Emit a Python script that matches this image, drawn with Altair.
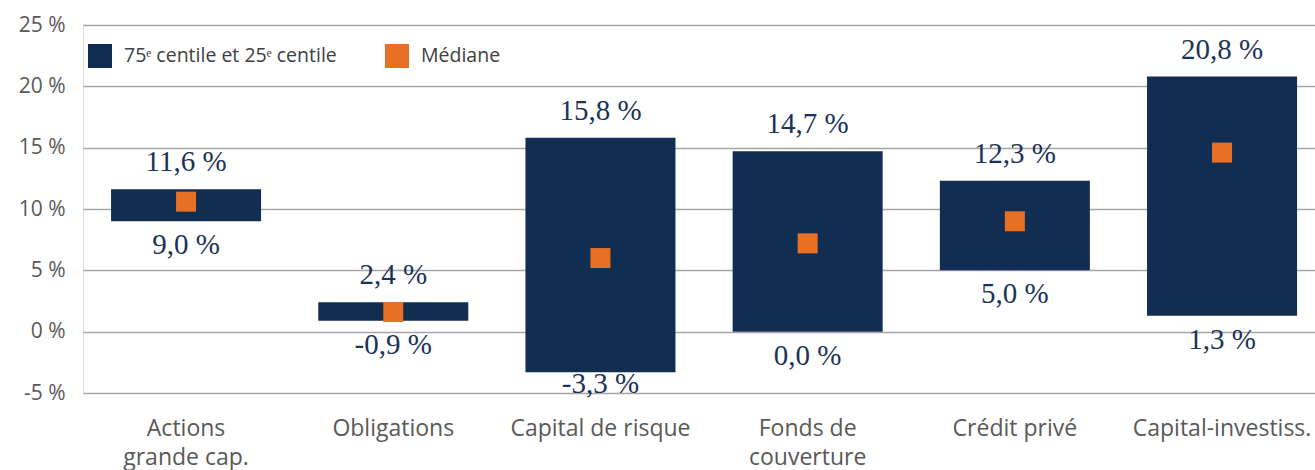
import altair as alt
import pandas as pd

categories = ["Actions grande cap.", "Obligations", "Capital de risque",
              "Fonds de couverture", "Crédit privé", "Capital-investiss."]
p75 = [11.6, 2.4, 15.8, 14.7, 12.3, 20.8]
p25 = [9.0, 0.9, -3.3, 0.0, 5.0, 1.3]
median = [10.6, 1.6, 6.0, 7.2, 9.0, 14.6]
top_labels = ["11,6 %", "2,4 %", "15,8 %", "14,7 %", "12,3 %", "20,8 %"]
bottom_labels = ["9,0 %", "-0,9 %", "-3,3 %", "0,0 %", "5,0 %", "1,3 %"]
series = ["75ᵉ centile et 25ᵉ centile", "Médiane"]
colors = ["#112d52", "#e87025"]

df = pd.DataFrame({
    "cat": categories, "hi": p75, "lo": p25, "med": median,
    "tl": top_labels, "bl": bottom_labels,
    "s_bar": series[0], "s_med": series[1],
})

SANS = "Open Sans"
SERIF = "Liberation Serif"

x = alt.X("cat:N", sort=categories, title=None,
          scale=alt.Scale(paddingInner=0.276, paddingOuter=0.111, align=0.61),
          axis=alt.Axis(labelAngle=0, labelFont=SANS, labelFontSize=23,
                        labelColor="#595959", labelPadding=24, labelLineHeight=29,
                        labelBaseline="top", labelLimit=0,
                        domain=False, ticks=False, grid=False,
                        labelExpr="datum.label == 'Actions grande cap.' ? ['Actions', 'grande cap.'] : datum.label == 'Fonds de couverture' ? ['Fonds de', 'couverture'] : datum.label"))

yscale = alt.Scale(domain=[-5, 25], nice=False, zero=False)
yaxis = alt.Axis(values=[-5, 0, 5, 10, 15, 20, 25], labelExpr="datum.value + ' %'",
                 labelFont=SANS, labelFontSize=21, labelColor="#595959",
                 labelPadding=18, domain=False, ticks=False,
                 grid=True, gridColor="#a6a6a6", gridWidth=1.5, title=None)

legend = alt.Legend(orient="none", legendX=5, legendY=19,
                    direction="horizontal", symbolType="square",
                    symbolSize=576, symbolStrokeWidth=0, symbolOpacity=1,
                    labelFont=SANS, labelFontSize=19.5, labelLimit=0,
                    labelColor="#404040", labelOffset=12, columnPadding=48)

base = alt.Chart(df)

bars = base.mark_bar().encode(
    x=x,
    y=alt.Y("lo:Q", scale=yscale, axis=yaxis),
    y2="hi:Q",
    color=alt.Color("s_bar:N", title=None,
                    scale=alt.Scale(domain=series, range=colors),
                    legend=legend),
)

meds = base.mark_square(size=400, opacity=1).encode(
    x=x,
    y=alt.Y("med:Q", scale=yscale),
    color=alt.Color("s_med:N", scale=alt.Scale(domain=series, range=colors)),
)

tlab = base.mark_text(font=SERIF, fontSize=29, color="#1b3358", dy=-27,
                      baseline="middle").encode(
    x=x, y=alt.Y("hi:Q", scale=yscale), text="tl:N")
blab = base.transform_calculate(
    ly="max(datum.lo - 1.95, -4.3)"
).mark_text(font=SERIF, fontSize=29, color="#1b3358",
            baseline="middle").encode(
    x=x, y=alt.Y("ly:Q", scale=yscale), text="bl:N")

chart = alt.layer(bars, meds, tlab, blab).properties(
    width=1232, height=368,
    autosize=alt.AutoSizeParams(type="none"),
    padding={"left": 83, "top": 25, "right": 0, "bottom": 77},
).configure_view(stroke=None).configure(background="white")

chart.save("out.html", embed_options={"renderer": "svg", "actions": False})
